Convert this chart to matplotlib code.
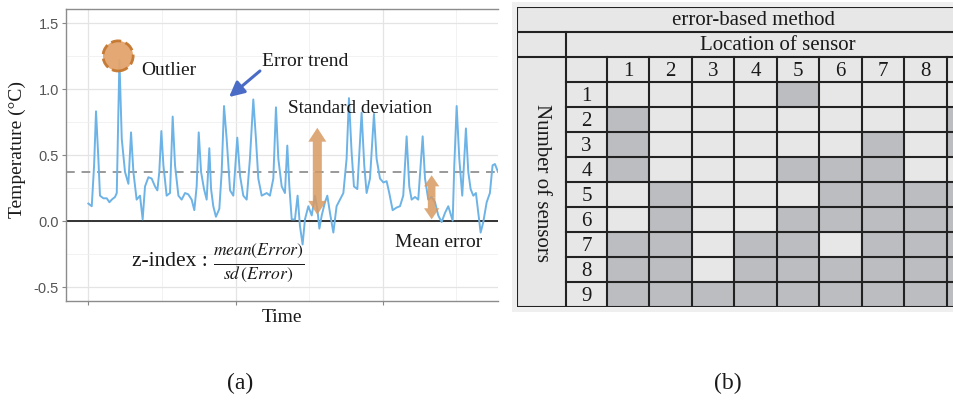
import matplotlib
matplotlib.use("Agg")
import matplotlib.pyplot as plt
from matplotlib.patches import Rectangle, FancyArrowPatch
from matplotlib.ticker import MultipleLocator

# ---------------- data ----------------
time = [0, 2.3, 3.9, 5.2, 6.8, 7.9, 10.2, 12.5, 14.3, 15.9,
        18.1, 19.3, 21.1, 22.7, 24.9, 27.2, 29.0, 30.6, 32.8, 35.1,
        36.9, 38.5, 40.8, 43.0, 45.3, 46.9, 48.2, 49.6, 51.0, 53.2,
        55.5, 57.3, 58.9, 61.2, 63.4, 65.7, 67.9, 70.2, 72.0, 73.6,
        75.0, 76.6, 78.6, 80.4, 82.2, 83.4, 84.9, 86.7, 89.0, 90.6,
        92.2, 94.0, 96.3, 98.5, 101.2, 103.1, 105.3, 107.6, 109.8, 112.1,
        113.9, 115.5, 117.8, 121.2, 123.4, 125.7, 127.5, 129.1, 131.4, 133.6,
        135.2, 136.6, 138.2, 140.4, 142.2, 143.8, 145.6, 147.2, 149.5, 151.8,
        154.0, 155.6, 157.0, 158.6, 160.8, 162.4, 164.2, 166.5, 168.7, 171.0,
        173.3, 175.5, 177.1, 178.9, 180.5, 182.8, 185.7, 187.5, 189.1, 191.4,
        194.1, 195.9, 198.2, 200.5, 202.7, 204.5, 206.8, 209.5, 211.8, 214.0,
        216.3, 218.1, 219.7, 222.0, 224.2, 227.2, 228.8, 231.0, 233.3, 235.6,
        237.8, 240.1, 242.4, 244.6, 247.6, 248.7, 250.3, 252.1, 254.1, 256.6,
        258.2, 259.8, 261.6, 263.4, 265.0, 266.6, 268.4, 270.7, 272.9, 274.7,
        276.3, 278.4]
error = [0.13, 0.11, 0.42, 0.83, 0.47, 0.19, 0.17, 0.17, 0.14, 0.16,
         0.18, 0.21, 1.22, 0.62, 0.37, 0.28, 0.67, 0.37, 0.16, 0.19,
         0.01, 0.26, 0.33, 0.32, 0.26, 0.23, 0.37, 0.68, 0.42, 0.19,
         0.21, 0.79, 0.42, 0.19, 0.16, 0.21, 0.20, 0.16, 0.08, 0.26,
         0.67, 0.37, 0.24, 0.16, 0.55, 0.24, 0.11, 0.03, 0.09, 0.37,
         0.87, 0.62, 0.23, 0.19, 0.63, 0.34, 0.19, 0.16, 0.47, 0.92,
         0.62, 0.32, 0.19, 0.21, 0.19, 0.32, 0.86, 0.47, 0.26, 0.21,
         0.57, 0.26, 0.01, 0.01, 0.19, -0.04, -0.18, 0.01, 0.11, 0.04,
         0.19, 0.09, -0.06, 0.04, 0.14, 0.19, 0.06, -0.09, 0.11, 0.16,
         0.21, 0.47, 0.93, 0.52, 0.26, 0.24, 0.82, 0.42, 0.21, 0.32,
         0.81, 0.47, 0.32, 0.29, 0.30, 0.21, 0.08, 0.10, 0.11, 0.19,
         0.64, 0.26, 0.16, 0.18, 0.16, 0.64, 0.32, 0.16, 0.18, 0.14,
         0.04, -0.01, 0.06, 0.11, 0.00, 0.42, 0.87, 0.47, 0.19, 0.70,
         0.37, 0.24, 0.19, 0.21, 0.06, -0.09, -0.01, 0.14, 0.21, 0.42,
         0.43, 0.37]
mean_error = 0.37
outlier_point = (20.2, 1.25)
yticks = [-0.5, 0.0, 0.5, 1.0, 1.5]
ytick_labels = ["-0.5", "0.0", "0.5", "1.0", "1.5"]

# table data
locations = ["1", "2", "3", "4", "5", "6", "7", "8", "9"]
n_sensors = ["1", "2", "3", "4", "5", "6", "7", "8", "9"]
selected = [
    [0, 0, 0, 0, 1, 0, 0, 0, 0],
    [1, 0, 0, 0, 0, 0, 0, 0, 1],
    [1, 0, 0, 0, 0, 0, 1, 0, 1],
    [1, 0, 0, 0, 1, 1, 1, 0, 0],
    [0, 1, 0, 0, 0, 1, 1, 1, 1],
    [0, 1, 0, 0, 1, 1, 1, 1, 1],
    [1, 1, 0, 1, 1, 0, 1, 1, 1],
    [1, 1, 0, 1, 1, 1, 1, 1, 1],
    [1, 1, 1, 1, 1, 1, 1, 1, 1],
]

# ---------------- figure ----------------
W, H = 954, 402
fig = plt.figure(figsize=(W / 100, H / 100), dpi=100)
fig.patch.set_facecolor("white")
SERIF = ["Liberation Serif", "DejaVu Serif"]
plt.rcParams["mathtext.fontset"] = "stix"


def fbox(l, t, r, b):
    return [l / W, 1 - b / H, (r - l) / W, (b - t) / H]


# ---------- panel (a) ----------
ax = fig.add_axes(fbox(66, 10, 498, 302))
ax.set_xlim(-15.2, 278.4)
ax.set_ylim(-0.609, 1.606)
ax.set_facecolor("white")
ax.xaxis.set_major_locator(MultipleLocator(100))
ax.xaxis.set_minor_locator(MultipleLocator(50))
ax.yaxis.set_minor_locator(MultipleLocator(0.25))
ax.set_yticks(yticks)
ax.set_yticklabels(ytick_labels, family=["Liberation Sans"], fontsize=10.5, color="#555555")
ax.set_xticklabels([])
ax.grid(which="major", color="#e4e4e4", lw=0.9)
ax.grid(which="minor", color="#f0f0f0", lw=0.6)
ax.tick_params(which="major", length=3, color="#888888", width=0.8, pad=2)
ax.tick_params(which="minor", length=0)
for s in ["left", "bottom", "top"]:
    ax.spines[s].set_color("#8c8c8c")
    ax.spines[s].set_linewidth(1.0)
ax.spines["right"].set_visible(False)
ax.set_axisbelow(True)

ax.axhline(0, color="#333333", lw=1.4, zorder=2)
ax.axhline(mean_error, color="#999999", lw=1.4, ls=(0, (4.5, 3.5)), zorder=2)
ax.plot(time, error, color="#6db3e6", lw=1.4, zorder=3)

ax.scatter([outlier_point[0]], [outlier_point[1]], s=470, facecolor="#e3a46c",
           edgecolor="#c4772f", linewidths=2.0, linestyles="--", zorder=4, alpha=0.95)

tkw = dict(family=SERIF, color="#1a1a1a")
ax.text(35.8, 1.15, "Outlier", fontsize=14, va="center", ha="left", **tkw)
ax.text(118.0, 1.212, "Error trend", fontsize=14, va="center", ha="left", **tkw)
ax.text(135.7, 0.86, "Standard deviation", fontsize=13.8, va="center", ha="left", **tkw)
ax.text(208.4, -0.155, "Mean error", fontsize=14, va="center", ha="left", **tkw)
ax.text(80.8, -0.305, "z-index :", fontsize=15.5, va="center", ha="right", **tkw)
ax.text(84.8, -0.318, r"$\frac{\mathit{mean}(\mathit{Error})}{\mathit{sd}\,(\mathit{Error})}$",
        fontsize=18, va="center", ha="left", color="#1a1a1a")

# error trend arrow
ax.annotate("", xy=(95.6, 0.938), xytext=(116.6, 1.136),
            arrowprops=dict(arrowstyle="-|>,head_length=0.9,head_width=0.45",
                            lw=2.2, color="#4a6cc6", shrinkA=0, shrinkB=0), zorder=5)


def double_arrow(x, y0, y1, tail, head_w, head_l):
    mid = (y0 + y1) / 2
    style = f"simple,tail_width={tail},head_width={head_w},head_length={head_l}"
    for end in (y0, y1):
        p = FancyArrowPatch((x, mid), (x, end), arrowstyle=style, mutation_scale=1,
                            color="#d99a62", alpha=0.85, lw=0, shrinkA=0, shrinkB=0, zorder=5)
        ax.add_patch(p)


double_arrow(155.6, 0.045, 0.705, 6.5, 13, 10)
double_arrow(233.3, 0.01, 0.345, 5.5, 11, 8)

fig.text(17 / W, 1 - 150 / H, "Temperature (\u00b0C)", rotation=90, ha="center",
         va="center", fontsize=14, family=SERIF, color="#1a1a1a")
fig.text(282 / W, 1 - 318 / H, "Time", ha="center", va="center", fontsize=14,
         family=SERIF, color="#1a1a1a")

# ---------- panel (b) table ----------
fig.add_artist(Rectangle((512 / W, 1 - 313 / H), (W - 512) / W, 310 / H,
                         transform=fig.transFigure, facecolor="#efefef",
                         edgecolor="none", zorder=0))
col_w = [49, 41] + [42.5] * len(locations)
row_h = 25.0
n_rows = 3 + len(n_sensors)
tw = sum(col_w)
th = row_h * n_rows
T_LEFT, T_TOP = 517, 8
tb = fig.add_axes(fbox(T_LEFT, T_TOP, T_LEFT + tw, T_TOP + th))
tb.set_xlim(0, tw)
tb.set_ylim(th, 0)
tb.axis("off")
tb.add_patch(Rectangle((0, 0), tw, th, facecolor="#e7e7e7", edgecolor="none", zorder=0))

xe = [0]
for w in col_w:
    xe.append(xe[-1] + w)
ye = [row_h * i for i in range(n_rows + 1)]

for i, row in enumerate(selected):
    for j, v in enumerate(row):
        if v:
            tb.add_patch(Rectangle((xe[j + 2], ye[i + 3]), col_w[j + 2], row_h,
                                   facecolor="#bcbdc0", edgecolor="none", zorder=1))

LC = "#222222"
LW = 1.5
kw = dict(color=LC, lw=LW, zorder=3, solid_capstyle="projecting")
tb.plot([0, tw, tw, 0, 0], [0, 0, th, th, 0], **kw)
tb.plot([0, tw], [ye[1], ye[1]], **kw)
tb.plot([0, tw], [ye[2], ye[2]], **kw)
for k in range(3, n_rows):
    tb.plot([xe[1], tw], [ye[k], ye[k]], **kw)
tb.plot([xe[1], xe[1]], [ye[1], th], **kw)
for k in range(2, len(xe) - 1):
    tb.plot([xe[k], xe[k]], [ye[2], th], **kw)

tkw2 = dict(family=SERIF, color="#1a1a1a", ha="center", va="center", zorder=4)
tb.text(tw / 2, (ye[0] + ye[1]) / 2, "error-based method", fontsize=15, **tkw2)
tb.text((xe[1] + tw) / 2, (ye[1] + ye[2]) / 2, "Location of sensor", fontsize=15, **tkw2)
tb.text(xe[1] / 2, (ye[2] + th) / 2, "Number of sensors", rotation=-90, fontsize=15, **tkw2)
for j, lab in enumerate(locations):
    cx = (xe[j + 2] + xe[j + 3]) / 2
    if T_LEFT + cx + 8 < W:  # only labels that lie inside the visible crop
        tb.text(cx, (ye[2] + ye[3]) / 2 + 1, lab, fontsize=15, **tkw2)
for i, lab in enumerate(n_sensors):
    tb.text((xe[1] + xe[2]) / 2, (ye[i + 3] + ye[i + 4]) / 2 + 1, lab, fontsize=15, **tkw2)

fig.text(240 / W, 1 - 383 / H, "(a)", ha="center", va="center", fontsize=17,
         family=SERIF, color="#1a1a1a")
fig.text(728 / W, 1 - 383 / H, "(b)", ha="center", va="center", fontsize=17,
         family=SERIF, color="#1a1a1a")

fig.savefig("out.png", dpi=100)
